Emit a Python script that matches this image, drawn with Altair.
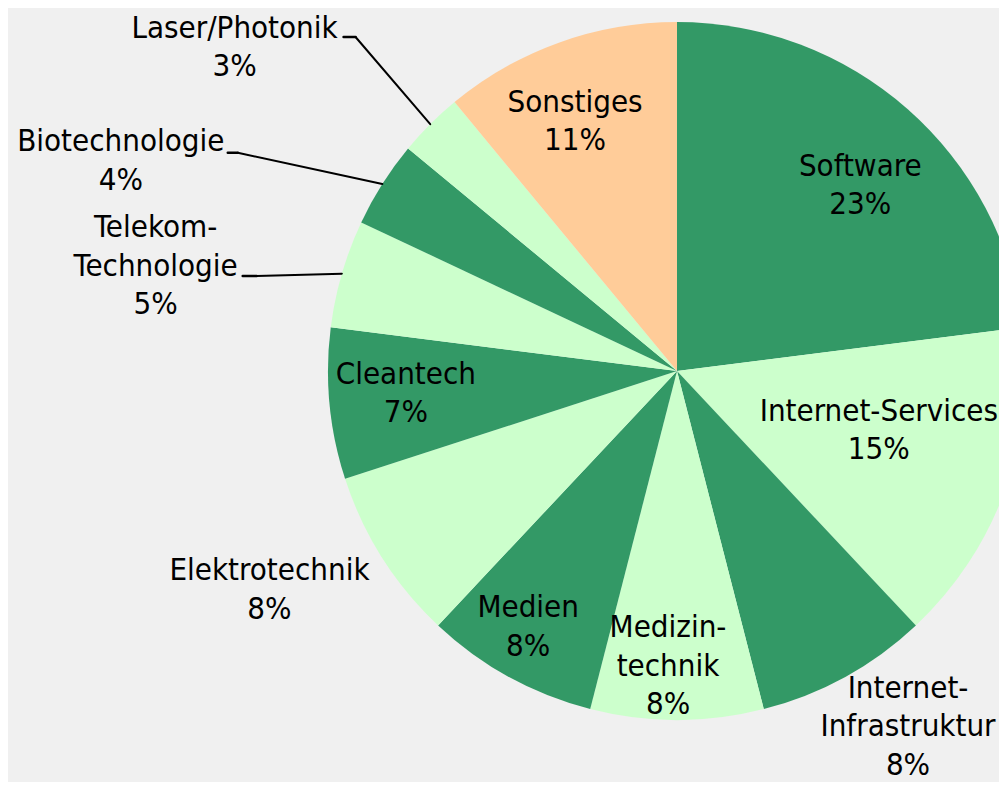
import altair as alt
import pandas as pd

# ---- data ----
CATEGORIES = [
    "Software", "Internet-Services", "Internet-Infrastruktur", "Medizintechnik",
    "Medien", "Elektrotechnik", "Cleantech", "Telekom-Technologie",
    "Biotechnologie", "Laser/Photonik", "Sonstiges",
]
SHARES = [23, 15, 8, 8, 8, 8, 7, 5, 4, 3, 11]
DISPLAY_NAMES = [
    "Software", "Internet-Services", "Internet-\nInfrastruktur", "Medizin-\ntechnik",
    "Medien", "Elektrotechnik", "Cleantech", "Telekom-\nTechnologie",
    "Biotechnologie", "Laser/Photonik", "Sonstiges",
]

# ---- styling / layout ----
DARK, LIGHT, PEACH = "#339966", "#ccffcc", "#ffcc99"
PALETTE = [DARK, LIGHT, DARK, LIGHT, DARK, LIGHT, DARK, LIGHT, DARK, LIGHT, PEACH]

CX, CY, R = 669, 363, 349
LINE_H = 38.5

# label block centre: (distance from pie centre, angular shift from slice middle in degrees)
LABEL_PLACEMENT = {
    "Software": (262, 3.0),
    "Internet-Services": (210, -3.8),
    "Internet-Infrastruktur": (423, -4.3),
    "Medizintechnik": (294, 1.75),
    "Medien": (295, 1.5),
    "Elektrotechnik": (462, 4.3),
    "Cleantech": (272, 1.0),
    "Telekom-Technologie": (532, -4.7),
    "Biotechnologie": (595, -11.6),
    "Laser/Photonik": (549, -8.7),
    "Sonstiges": (271, -2.3),
}
# leader lines: (text-end dx, elbow dx, dy) relative to the label centre
LEADERS = {
    "Telekom-Technologie": (87, 101, 11),
    "Biotechnologie": (107, 117, -7),
    "Laser/Photonik": (109, 121, -9),
}

rows = []
for i, (cat, val, disp) in enumerate(zip(CATEGORIES, SHARES, DISPLAY_NAMES)):
    lr, shift = LABEL_PLACEMENT[cat]
    lead = LEADERS.get(cat)
    label = f"{disp}\n{val}%"
    rows.append({
        "order": i,
        "category": cat,
        "value": val,
        "label": label,
        "nlines": label.count("\n") + 1,
        "lr": lr,
        "lshift": shift,
        "leader": lead is not None,
        "end_dx": lead[0] if lead else 0,
        "elbow_dx": lead[1] if lead else 0,
        "lead_dy": lead[2] if lead else 0,
    })
df = pd.DataFrame(rows)

base = (
    alt.Chart(df)
    .transform_joinaggregate(total="sum(value)")
    .transform_window(cum="sum(value)", sort=[alt.SortField("order", order="ascending")], frame=[None, 0])
    .transform_calculate(mid="(datum.cum - datum.value / 2) / datum.total * 2 * PI")
    .transform_calculate(ang="datum.mid + datum.lshift * PI / 180")
    .transform_calculate(lx=f"{CX} + datum.lr * sin(datum.ang)")
    .transform_calculate(ly=f"{CY} - datum.lr * cos(datum.ang)")
    .transform_calculate(ty=f"datum.ly - (datum.nlines - 1) * {LINE_H} / 2")
    .transform_calculate(rx=f"{CX} + {R} * sin(datum.mid)")
    .transform_calculate(ry=f"{CY} - {R} * cos(datum.mid)")
    .transform_calculate(ex="datum.lx + datum.end_dx")
    .transform_calculate(bx="datum.lx + datum.elbow_dx")
    .transform_calculate(by="datum.ly + datum.lead_dy")
)

pie = base.mark_arc(outerRadius=R).encode(
    theta=alt.Theta("value:Q", stack=True),
    order=alt.Order("order:Q"),
    color=alt.Color("category:N", scale=alt.Scale(domain=CATEGORIES, range=PALETTE), legend=None),
    x=alt.value(CX),
    y=alt.value(CY),
)

labels = base.mark_text(
    font="DejaVu Sans Condensed",
    fontSize=31,
    lineHeight=LINE_H,
    lineBreak="\n",
    align="center",
    baseline="middle",
    color="black",
    dy=2,
).encode(
    x=alt.X("lx:Q", scale=None, axis=None),
    y=alt.Y("ty:Q", scale=None, axis=None),
    text="label:N",
)

leader_diag = base.transform_filter("datum.leader").mark_rule(
    color="black", strokeWidth=2, strokeCap="round"
).encode(
    x=alt.X("rx:Q", scale=None, axis=None),
    y=alt.Y("ry:Q", scale=None, axis=None),
    x2="bx:Q",
    y2="by:Q",
)

leader_flat = base.transform_filter("datum.leader").mark_rule(
    color="black", strokeWidth=2.5, strokeCap="round"
).encode(
    x=alt.X("ex:Q", scale=None, axis=None),
    y=alt.Y("by:Q", scale=None, axis=None),
    x2="bx:Q",
    y2="by:Q",
)

chart = (
    alt.layer(pie, leader_diag, leader_flat, labels)
    .properties(
        width=991,
        height=774,
        autosize=alt.AutoSizeParams(type="none"),
        padding=0,
        background="#f0f0f0",
    )
    .configure_view(stroke=None)
)

chart.save("out.html", embed_options={"renderer": "svg", "actions": False})
